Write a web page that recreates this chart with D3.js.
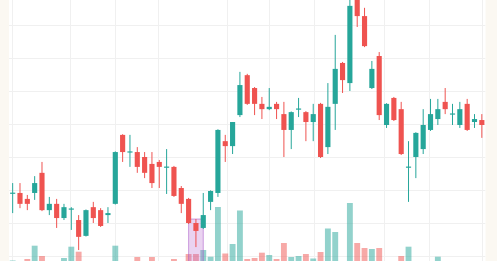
<!DOCTYPE html>
<html><head><meta charset="utf-8">
<script src="https://cdn.jsdelivr.net/npm/d3@7"></script>
<style>html,body{margin:0;padding:0;background:#fbf8f2;overflow:hidden}</style>
</head><body>
<script>
const opens  = [28.9,29.1,27.3,29.1,35.2,23.9,25.8,21.5,24.1,20.9,16.1,24.8,23.9,22.4,25.8,46.7,41.4,41.5,40.0,37.9,38.5,36.8,37.0,30.6,27.3,20.0,18.5,26.4,29.1,44.8,43.3,52.7,64.8,60.9,56.1,54.5,56.1,53.0,48.2,54.4,53.6,50.6,56.1,43.0,56.1,68.5,62.4,88.5,82.7,60.9,70.6,49.7,57.9,54.5,36.8,40.0,42.4,48.2,51.5,56.7,52.9,49.7,56.1,50.6,51.2];
const highs  = [32.1,32.1,28.5,34.2,38.5,27.9,27.3,25.8,24.8,22.4,24.1,26.4,24.5,24.8,41.7,46.9,46.7,43.0,41.5,41.5,39.1,42.4,37.3,31.2,27.6,21.2,29.1,29.9,48.4,46.7,50.6,65.8,65.2,61.2,58.2,60.9,56.7,56.7,53.8,57.9,53.9,56.1,56.4,62.4,77.0,68.8,88.2,90.6,85.2,69.1,71.8,56.3,58.2,56.7,44.8,47.5,54.5,57.6,57.6,60.9,56.1,56.7,57.6,53.0,53.0];
const lows   = [23.0,24.5,23.9,27.0,23.6,22.4,18.5,20.9,17.9,11.8,15.9,20.0,18.8,20.0,25.6,38.5,37.0,35.2,33.6,30.6,30.6,28.8,27.9,23.0,19.7,12.7,18.2,23.9,27.9,38.5,40.9,52.1,55.8,52.7,51.5,54.2,51.5,40.0,42.4,52.1,44.8,44.8,39.7,40.9,48.2,59.4,60.0,79.4,73.3,60.6,51.2,48.8,50.9,40.6,26.4,33.6,40.9,47.9,49.7,53.0,49.7,48.8,47.9,48.8,45.8];
const closes = [29.2,25.8,25.8,32.1,23.9,25.8,21.5,24.8,24.4,15.8,23.9,21.5,19.1,23.0,41.5,41.5,41.7,37.0,35.2,32.1,37.0,37.1,28.2,25.8,20.0,17.6,22.4,29.7,48.2,43.3,50.6,61.8,56.1,56.1,54.5,55.2,54.5,48.2,53.6,54.7,50.6,53.0,40.0,55.2,66.7,63.3,85.8,82.7,73.6,66.7,52.7,56.1,51.2,40.9,37.1,47.3,49.7,53.0,54.5,54.5,53.2,54.5,48.2,51.5,49.7];
const volumes = [15,10,30,163,60,10,10,40,153,103,10,10,10,10,163,10,10,50,10,50,10,10,30,10,80,80,120,53,550,85,180,515,30,40,93,70,30,190,50,60,80,35,100,335,300,10,590,190,140,130,140,10,10,60,153,10,10,10,53,10,10,10,10,10,10];
const days = d3.range(opens.length);
const gridDays = [-0.15, 7.8, 14, 19.8, 29.2, 35, 41.1, 50.6, 56.8, 64];
const priceTicks = [10,20,30,40,50,60,70,80];
const highlightDay = 25;

const W = 497, H = 261;
const left = 9, right = 485.5;
const upColor = "#26a69a", downColor = "#ef5350";

const svg = d3.select("body").append("svg").attr("width", W).attr("height", H).style("display","block");
svg.append("rect").attr("width", W).attr("height", H).attr("fill", "#fbf8f2");
svg.append("rect").attr("x", left).attr("y", 0).attr("width", right - left).attr("height", H).attr("fill", "#ffffff");

svg.append("defs").append("clipPath").attr("id","plot").append("rect")
  .attr("x", left).attr("y", 0).attr("width", right-left).attr("height", H);

const x = d3.scaleBand().domain(days).range([left, right]).paddingInner(0.3).paddingOuter(0.15);
const xc = i => x(i) + x.bandwidth()/2;
const xi = d3.scaleLinear().domain([0, days.length-1]).range([xc(0), xc(days.length-1)]);
const y = d3.scaleLinear().domain([10, 80]).range([256, 25]);
const yv = d3.scaleLinear().domain([0, 1000]).range([262, 162]);

const g = svg.append("g").attr("clip-path","url(#plot)");

// grid
g.append("g").selectAll("line").data(gridDays).join("line")
  .attr("x1", d => Math.round(xi(d)) + 0.5).attr("x2", d => Math.round(xi(d)) + 0.5)
  .attr("y1", 0).attr("y2", H).attr("stroke", "#f0f0f0").attr("stroke-width", 1);
g.append("g").selectAll("line").data(priceTicks).join("line")
  .attr("x1", left).attr("x2", right)
  .attr("y1", d => Math.round(y(d)) + 0.5).attr("y2", d => Math.round(y(d)) + 0.5)
  .attr("stroke", "#f0f0f0").attr("stroke-width", 1);

const isUp = i => closes[i] >= opens[i];
const vw = x.step() * 0.8;

// volume
g.append("g").selectAll("rect").data(days).join("rect")
  .attr("x", i => xc(i) - vw/2).attr("width", vw)
  .attr("y", i => yv(volumes[i])).attr("height", i => yv(0) - yv(volumes[i]))
  .attr("fill", i => isUp(i) ? "rgba(38,166,154,0.5)" : "rgba(239,83,80,0.5)");

// highlight
g.append("rect")
  .attr("x", xc(highlightDay-1)).attr("width", xc(highlightDay+1) - xc(highlightDay-1))
  .attr("y", y(highs[highlightDay])).attr("height", H - y(highs[highlightDay]) + 5)
  .attr("fill", "rgba(186,110,210,0.3)").attr("stroke", "rgba(170,90,200,0.55)").attr("stroke-width", 1);

// wicks
g.append("g").selectAll("line").data(days).join("line")
  .attr("x1", i => xc(i)).attr("x2", i => xc(i))
  .attr("y1", i => y(highs[i])).attr("y2", i => y(lows[i]))
  .attr("stroke", i => isUp(i) ? upColor : downColor).attr("stroke-width", 1);

// bodies
g.append("g").selectAll("rect").data(days).join("rect")
  .attr("x", i => x(i)).attr("width", x.bandwidth())
  .attr("y", i => y(Math.max(opens[i], closes[i])))
  .attr("height", i => Math.max(1.2, Math.abs(y(opens[i]) - y(closes[i]))))
  .attr("fill", i => isUp(i) ? upColor : downColor);
</script>
</body></html>
